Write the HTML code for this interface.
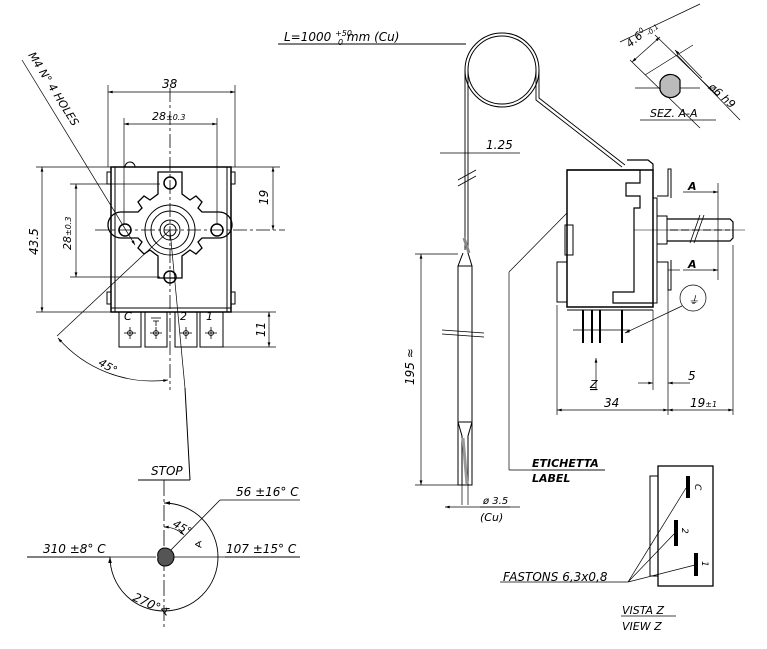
<!DOCTYPE html>
<html><head><meta charset="utf-8"><style>
html,body{margin:0;padding:0;background:#fff;}
svg{display:block;}
text{font-family:"DejaVu Sans","Liberation Sans",sans-serif;font-style:italic;fill:#000;}
</style></head><body>
<svg width="767" height="649" viewBox="0 0 767 649" xmlns="http://www.w3.org/2000/svg">
<defs>
<marker id="a" viewBox="0 0 10 6" refX="10" refY="3" markerWidth="8" markerHeight="4" orient="auto-start-reverse"><path d="M0,0 L10,3 L0,6 z" fill="#000"/></marker>
</defs>
<g stroke="#000" fill="none" stroke-width="1">
<!-- LEFT FRONT VIEW -->
<rect x="111" y="167" width="120" height="145" stroke-width="1.5"/>
<line x1="115" y1="167" x2="115" y2="312"/><line x1="227" y1="167" x2="227" y2="312"/>
<rect x="107" y="172" width="4" height="12"/><rect x="231" y="172" width="4" height="12"/>
<rect x="107" y="292" width="4" height="12"/><rect x="231" y="292" width="4" height="12"/>
<path d="M125,167 a5,5 0 0 1 10,0"/>
<line x1="111" y1="308" x2="231" y2="308"/>
<!-- flange -->
<path d="M158,172 h24 v22 l8,6 l6,-4 l6,6 l-4,6 l4,4 h17 a13,13 0 0 1 0,26 h-17 l-4,4 l4,6 l-6,6 l-6,-4 l-8,6 v22 h-24 v-22 l-8,-6 l-6,4 l-6,-6 l4,-6 l-4,-4 h-17 a13,13 0 0 1 0,-26 h17 l4,-4 l-4,-6 l6,-6 l6,4 l8,-6 z" stroke-width="1.3"/>
<circle cx="170" cy="230" r="25"/><circle cx="170" cy="230" r="19"/><circle cx="170" cy="230" r="10"/><circle cx="170" cy="230" r="6"/>
<circle cx="170" cy="183" r="6" stroke-width="1.5"/><circle cx="170" cy="277" r="6" stroke-width="1.5"/>
<circle cx="125" cy="230" r="6" stroke-width="1.5"/><circle cx="217" cy="230" r="6" stroke-width="1.5"/>
<line x1="170" y1="88" x2="170" y2="390" stroke-dasharray="14,3,3,3" stroke-width="0.8"/>
<line x1="95" y1="230" x2="285" y2="230" stroke-dasharray="14,3,3,3" stroke-width="0.8"/>
<!-- terminals -->
<rect x="119" y="312" width="22" height="35"/><rect x="145" y="312" width="22" height="35"/>
<rect x="175" y="312" width="22" height="35"/><rect x="200" y="312" width="23" height="35"/>
<g stroke-width="0.8"><circle cx="130" cy="333" r="2.5"/><line x1="130" y1="327" x2="130" y2="339"/><line x1="124" y1="333" x2="136" y2="333"/>
<circle cx="156" cy="333" r="2.5"/><line x1="156" y1="327" x2="156" y2="339"/><line x1="150" y1="333" x2="162" y2="333"/>
<circle cx="186" cy="333" r="2.5"/><line x1="186" y1="327" x2="186" y2="339"/><line x1="180" y1="333" x2="192" y2="333"/>
<circle cx="211" cy="333" r="2.5"/><line x1="211" y1="327" x2="211" y2="339"/><line x1="205" y1="333" x2="217" y2="333"/></g>
<line x1="151" y1="318" x2="161" y2="318" stroke-width="0.8"/><line x1="153" y1="321" x2="159" y2="321" stroke-width="0.8"/><line x1="156" y1="321" x2="156" y2="326" stroke-width="0.8"/>
<!-- dims -->
<g stroke-width="0.7">
<line x1="108" y1="85" x2="108" y2="167"/><line x1="235" y1="85" x2="235" y2="167"/>
<line x1="108" y1="92" x2="235" y2="92" marker-start="url(#a)" marker-end="url(#a)"/>
<line x1="124" y1="118" x2="124" y2="224"/><line x1="217" y1="118" x2="217" y2="224"/>
<line x1="124" y1="124" x2="217" y2="124" marker-start="url(#a)" marker-end="url(#a)"/>
<line x1="36" y1="167" x2="111" y2="167"/><line x1="36" y1="312" x2="111" y2="312"/>
<line x1="42" y1="167" x2="42" y2="312" marker-start="url(#a)" marker-end="url(#a)"/>
<line x1="70" y1="184" x2="160" y2="184"/><line x1="70" y1="277" x2="160" y2="277"/>
<line x1="76" y1="184" x2="76" y2="277" marker-start="url(#a)" marker-end="url(#a)"/>
<line x1="231" y1="167" x2="280" y2="167"/>
<line x1="273" y1="167" x2="273" y2="230" marker-start="url(#a)" marker-end="url(#a)"/>
<line x1="223" y1="347" x2="276" y2="347"/><line x1="231" y1="312" x2="276" y2="312"/>
<line x1="269" y1="312" x2="269" y2="347" marker-start="url(#a)" marker-end="url(#a)"/>
<line x1="22" y1="60" x2="135" y2="245" marker-end="url(#a)"/>
<line x1="170" y1="230" x2="57" y2="336"/>
<line x1="170" y1="230" x2="185" y2="388"/>
<path d="M58,338 A125,125 0 0 0 168,380" marker-start="url(#a)" marker-end="url(#a)"/>
</g>
<!-- DIAL -->
<line x1="138" y1="480" x2="190" y2="480"/><line x1="190" y1="480" x2="185" y2="388"/>
<line x1="164" y1="480" x2="164" y2="630" stroke-dasharray="16,3,3,3" stroke-width="0.8"/>
<line x1="27" y1="557" x2="300" y2="557" stroke-dasharray="60,3,3,3" stroke-width="0.8"/>
<line x1="27" y1="557" x2="110" y2="557"/><line x1="225" y1="557" x2="300" y2="557"/>
<path d="M164,503 A54,54 0 1 1 110,557" stroke-width="0.9" marker-start="url(#a)" marker-end="url(#a)"/>
<path d="M164,527 A30,30 0 0 1 184,535" stroke-width="0.7" marker-start="url(#a)" marker-end="url(#a)"/>
<line x1="166" y1="555" x2="220" y2="500" stroke-width="0.8"/><line x1="220" y1="500" x2="300" y2="500" stroke-width="0.8"/>
<path d="M158,557 a7,7 0 0 1 7,-9 a9,9 0 0 1 0,18 a7,7 0 0 1 -7,-9z" fill="#555"/>
<!-- RIGHT: capillary -->
<line x1="278" y1="44" x2="466" y2="44"/>
<circle cx="502" cy="70" r="37" stroke-width="1"/><circle cx="502" cy="70" r="34" stroke-width="1"/>
<path d="M465,70 V250 M468,70 V250" stroke-width="0.9"/>
<path d="M539,70 V98 L625,165 M536,70 V100 L622,167" stroke-width="0.9"/>
<path d="M458,180 L476,170 M458,186 L476,176" stroke-width="0.8"/>
<line x1="440" y1="153" x2="500" y2="153" stroke-width="0.7"/><line x1="500" y1="153" x2="520" y2="153" stroke-width="0.7"/>
<line x1="464" y1="238" x2="469" y2="253" stroke-width="3" stroke="#888"/>
<path d="M463,253 L458,266 V485 H472 V266 L468,253" stroke-width="1"/>
<line x1="458" y1="266" x2="472" y2="266"/>
<path d="M458,422 L462,436 V485 M472,422 L468,436 V485 M458,422 H472"/>
<line x1="463" y1="438" x2="467" y2="484" stroke="#999" stroke-width="3"/>
<line x1="462" y1="485" x2="462" y2="505" stroke-width="0.7"/><line x1="468" y1="485" x2="468" y2="505" stroke-width="0.7"/>
<line x1="442" y1="330" x2="484" y2="333" stroke-width="0.7"/><line x1="442" y1="334" x2="484" y2="337" stroke-width="0.7"/>
<g stroke-width="0.7">
<line x1="415" y1="254" x2="458" y2="254"/><line x1="415" y1="485" x2="458" y2="485"/>
<line x1="421" y1="254" x2="421" y2="485" marker-start="url(#a)" marker-end="url(#a)"/>
<line x1="445" y1="507" x2="510" y2="507" marker-start="url(#a)"/>
<line x1="480" y1="507" x2="520" y2="507"/>
</g>
<!-- side body -->
<rect x="567" y="170" width="86" height="137" stroke-width="1.5"/>
<path d="M567,170 H640 V183 H626 V196 H640 V208 H634 V292 H613 V303 H653" stroke-width="1.2"/>
<path d="M627,160 H648 L653,164 V170" stroke-width="1.2"/>
<rect x="565" y="225" width="8" height="30"/><rect x="557" y="262" width="10" height="40"/>
<rect x="653" y="198" width="4" height="105"/>
<path d="M657,196 H668 V169 H671 V198 M657,262 H668 V290 H671 V260" />
<rect x="657" y="216" width="10" height="28"/>
<path d="M667,219 H730 L733,222 V238 L730,241 H667" stroke-width="1.2"/>
<line x1="670" y1="230" x2="730" y2="230" stroke-dasharray="8,3"/>
<line x1="634" y1="230" x2="745" y2="230" stroke-width="0.6"/>
<path d="M690,243 L700,215 M694,243 L704,215" stroke-width="0.8"/>
<line x1="567" y1="310" x2="653" y2="310"/>
<path d="M583,310 V343 M592,310 V343 M600,310 V343 M622,310 V343" stroke-width="2"/>
<g stroke-width="0.7">
<line x1="683" y1="192" x2="718" y2="192" marker-end="url(#a)"/><line x1="683" y1="270" x2="718" y2="270" marker-end="url(#a)"/>
<line x1="718" y1="183" x2="718" y2="280"/>
<line x1="668" y1="270" x2="680" y2="270"/>
<circle cx="693" cy="298" r="13"/>
<line x1="682" y1="306" x2="625" y2="333" marker-end="url(#a)"/>
<line x1="573" y1="330" x2="630" y2="330"/>
<line x1="596" y1="390" x2="596" y2="358" marker-end="url(#a)"/>
<line x1="557" y1="305" x2="557" y2="415"/><line x1="668" y1="290" x2="668" y2="415"/>
<line x1="653" y1="310" x2="653" y2="390"/><line x1="733" y1="245" x2="733" y2="415"/>
<line x1="557" y1="410" x2="668" y2="410" marker-start="url(#a)" marker-end="url(#a)"/>
<line x1="668" y1="410" x2="733" y2="410" marker-start="url(#a)" marker-end="url(#a)"/>
<line x1="638" y1="383" x2="653" y2="383" marker-end="url(#a)"/><line x1="690" y1="383" x2="668" y2="383" marker-end="url(#a)"/>
<line x1="567" y1="213" x2="509" y2="272"/><line x1="509" y1="272" x2="509" y2="470"/><line x1="509" y1="470" x2="605" y2="470"/>
</g>
<!-- Section A-A -->
<g stroke-width="0.7">
<line x1="620" y1="42" x2="700" y2="4"/>
<line x1="630" y1="60" x2="700" y2="128"/><line x1="655" y1="35" x2="718" y2="96"/>
<line x1="632" y1="62" x2="660" y2="37" marker-start="url(#a)" marker-end="url(#a)"/>
<line x1="677" y1="55" x2="740" y2="120"/><line x1="645" y1="75" x2="693" y2="45"/>
<line x1="675" y1="50" x2="702" y2="78" marker-start="url(#a)"/>
<line x1="635" y1="88" x2="700" y2="88"/>
<line x1="640" y1="120" x2="716" y2="120"/>
</g>
<path d="M660,82 a11,11 0 0 1 20,-2 v12 a11,11 0 0 1 -20,-2 z" fill="#bbb" stroke-width="1.2"/>
<!-- View Z -->
<rect x="658" y="466" width="55" height="120" stroke-width="1.3"/>
<rect x="650" y="476" width="8" height="100"/>
<line x1="500" y1="582" x2="628" y2="582" stroke-width="0.7"/>
<path d="M628,582 L686,488 M628,582 L674,534 M628,582 L695,565" stroke-width="0.7"/>
<line x1="688" y1="476" x2="688" y2="498" stroke-width="4"/>
<line x1="676" y1="520" x2="676" y2="546" stroke-width="4"/>
<line x1="696" y1="553" x2="696" y2="576" stroke-width="4"/>
<line x1="621" y1="616" x2="676" y2="616" stroke-width="0.8"/>
<line x1="532" y1="470" x2="605" y2="470" stroke-width="0.8"/>
</g>
<!-- TEXT -->
<text x="162" y="88" font-size="12">38</text>
<text x="152" y="120" font-size="11">28<tspan font-size="8">±0.3</tspan></text>
<text transform="translate(38,255) rotate(-90)" font-size="12">43.5</text>
<text transform="translate(71,250) rotate(-90)" font-size="11">28<tspan font-size="8">±0.3</tspan></text>
<text transform="translate(268,205) rotate(-90)" font-size="12">19</text>
<text transform="translate(265,337) rotate(-90)" font-size="12">11</text>
<text transform="translate(28,55) rotate(58)" font-size="11">M4 N° 4 HOLES</text>
<text x="100" y="368" font-size="11" transform="rotate(30 105 362)">45°</text>
<text x="124" y="320" font-size="11" font-style="normal">C</text>
<text x="180" y="320" font-size="11" font-style="normal">2</text>
<text x="206" y="320" font-size="11" font-style="normal">1</text>
<text x="151" y="475" font-size="12">STOP</text>
<text x="236" y="496" font-size="12">56  ±16° C</text>
<text x="43" y="553" font-size="12">310  ±8° C</text>
<text x="226" y="553" font-size="12">107  ±15° C</text>
<text x="172" y="526" font-size="11" transform="rotate(30 172 526)">45°</text>
<text x="194" y="548" font-size="10">∢</text>
<text x="132" y="600" font-size="12" transform="rotate(25 132 600)">270°∢</text>
<text x="284" y="41" font-size="12">L=1000 <tspan font-size="8" dy="-5">+50</tspan><tspan font-size="8" dx="-14" dy="9">0</tspan><tspan dy="-4"> mm (Cu)</tspan></text>
<text x="486" y="149" font-size="12">1.25</text>
<text transform="translate(414,385) rotate(-90)" font-size="12">195 ≈</text>
<text x="483" y="504" font-size="10">ø 3.5</text>
<text x="480" y="521" font-size="11">(Cu)</text>
<text x="532" y="467" font-size="11" font-weight="bold">ETICHETTA</text>
<text x="532" y="482" font-size="11" font-weight="bold">LABEL</text>
<text x="688" y="190" font-size="11" font-weight="bold" font-style="normal">A</text>
<text x="688" y="268" font-size="11" font-weight="bold" font-style="normal">A</text>
<text x="688" y="304" font-size="11" font-style="normal">⏚</text>
<text x="590" y="388" font-size="11" font-style="normal" text-decoration="underline">Z</text>
<text x="688" y="380" font-size="12">5</text>
<text x="604" y="407" font-size="12">34</text>
<text x="690" y="407" font-size="12">19<tspan font-size="8">±1</tspan></text>
<text x="650" y="117" font-size="11">SEZ. A-A</text>
<text x="630" y="48" font-size="11" transform="rotate(-40 630 48)">4.6<tspan font-size="7" dy="-4">0</tspan><tspan font-size="7" dy="7">-0.1</tspan></text>
<text x="708" y="88" font-size="11" transform="rotate(42 708 88)">ø6 h9</text>
<text x="503" y="581" font-size="12">FASTONS 6,3x0,8</text>
<text x="695" y="484" font-size="9" font-style="normal" transform="rotate(90 695 484)">C</text>
<text x="682" y="528" font-size="9" font-style="normal" transform="rotate(90 682 528)">2</text>
<text x="702" y="561" font-size="9" font-style="normal" transform="rotate(90 702 561)">1</text>
<text x="622" y="614" font-size="11">VISTA Z</text>
<text x="622" y="630" font-size="11">VIEW Z</text>
</svg>
</body></html>
